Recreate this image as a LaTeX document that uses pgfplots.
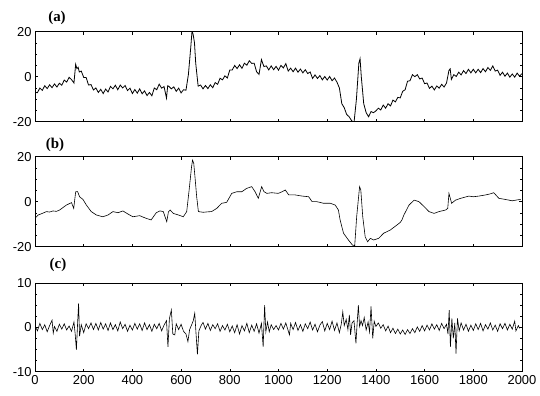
\documentclass[border=0pt]{standalone}
\usepackage{fontspec}
\setmainfont{Liberation Sans}
\newfontfamily\seriffont{Liberation Serif}
\usepackage{pgfplots}
\pgfplotsset{compat=1.18}
\pgfplotsset{
  panel/.style={
    scale only axis, width=487bp, height=90bp, anchor=south west,
    xmin=0, xmax=2000,
    xtick={0,200,...,2000},
    tick align=inside, tick pos=both,
    major tick length=3bp, minor tick length=2bp,
    axis line style={line width=0.8pt},
    every tick/.style={black, line width=0.5pt},
    ticklabel style={font=\fontsize{13}{13}\selectfont},
    /pgf/number format/assume math mode=true,
    /pgf/number format/1000 sep={},
    clip=true,
  },
  sig/.style={black, line width=0.6pt, mark=none},
}
\begin{document}
\begin{tikzpicture}
\path[use as bounding box] (0,0) rectangle (540bp,396bp);

% (a)
\begin{axis}[panel, at={(35bp,274.3bp)}, ymin=-20, ymax=20, ytick={-20,0,20}, minor ytick={-15,-10,-5,5,10,15}, xticklabels={}]
\addplot[sig, line width=0.8pt] coordinates {
(0,-7.0)(10,-7.1)(20,-5.0)(30,-6.1)(40,-4.0)(50,-5.3)(60,-3.6)(70,-4.9)(80,-3.2)(90,-4.6)
(100,-2.9)(110,-3.8)(120,-1.5)(130,-2.4)(140,-0.3)(150,-1.3)(160,-2.8)(167,5.5)(172,3.6)(177,4.2)
(182,2.1)(190,2.5)(200,-0.3)(210,-0.4)(220,-3.7)(230,-3.5)(240,-5.9)(250,-5.0)(260,-7.0)(270,-5.6)
(280,-7.5)(290,-5.5)(300,-6.8)(310,-4.3)(320,-5.4)(330,-3.8)(340,-5.8)(350,-3.7)(360,-5.0)(370,-3.9)
(380,-6.2)(390,-5.1)(400,-7.5)(410,-5.7)(420,-7.3)(430,-5.4)(440,-7.6)(450,-6.3)(460,-8.4)(470,-7.0)
(480,-8.5)(490,-5.0)(500,-5.8)(510,-3.3)(520,-5.1)(530,-4.4)(540,-9.5)(545,-4.0)(550,-4.3)(560,-5.4)
(570,-4.5)(580,-6.5)(590,-5.1)(600,-7.2)(610,-5.8)(620,-6.0)(630,1.0)(640,13.5)(645,20.5)(650,18.5)
(655,15.0)(660,6.0)(670,-4.2)(680,-3.7)(690,-5.4)(700,-3.9)(710,-5.3)(720,-3.6)(730,-4.9)(740,-2.6)
(750,-3.4)(760,-0.7)(770,-1.4)(780,0.4)(790,-0.6)(800,3.0)(810,3.0)(820,5.0)(830,3.6)(840,5.3)
(850,3.7)(860,6.0)(870,5.1)(880,7.1)(890,5.9)(900,6.0)(910,2.2)(920,1.0)(930,7.6)(940,4.5)
(950,4.8)(960,3.0)(970,4.8)(980,3.1)(990,4.6)(1000,2.9)(1010,5.0)(1020,3.9)(1030,5.8)(1040,2.5)
(1050,3.8)(1060,2.2)(1070,3.8)(1080,2.0)(1090,3.4)(1100,1.7)(1110,3.1)(1120,1.4)(1130,2.1)(1140,-0.8)
(1150,0.8)(1160,-0.8)(1170,0.5)(1180,-1.4)(1190,0.1)(1200,-1.5)(1210,0.1)(1220,-1.8)(1230,-0.6)(1240,-2.4)
(1250,-5.0)(1260,-12.0)(1270,-13.8)(1280,-16.8)(1290,-17.8)(1300,-19.5)(1310,-20.5)(1320,-10.0)(1325,-2.0)(1330,6.0)
(1335,8.0)(1340,0.0)(1345,-6.0)(1350,-12.0)(1360,-16.0)(1370,-17.8)(1380,-15.5)(1390,-16.0)(1400,-15.2)(1410,-14.0)
(1420,-14.8)(1430,-12.6)(1440,-14.0)(1450,-12.0)(1460,-13.0)(1470,-10.4)(1480,-11.2)(1490,-9.2)(1500,-9.4)(1510,-6.5)
(1520,-5.8)(1530,-2.0)(1540,-1.8)(1550,0.9)(1560,0.0)(1570,0.9)(1580,-1.0)(1590,-0.6)(1600,-3.1)(1610,-2.8)
(1620,-5.2)(1630,-4.2)(1640,-5.9)(1650,-4.1)(1660,-5.1)(1670,-3.4)(1680,-4.6)(1690,-2.8)(1700,2.8)(1705,3.5)
(1710,-1.2)(1720,0.9)(1730,0.1)(1740,2.0)(1750,0.8)(1760,2.7)(1770,1.4)(1780,3.3)(1790,1.7)(1800,3.3)
(1810,1.7)(1820,3.3)(1830,1.8)(1840,3.6)(1850,2.2)(1860,4.1)(1870,2.8)(1880,4.8)(1890,2.5)(1900,2.9)
(1910,0.6)(1920,2.0)(1930,0.2)(1940,1.6)(1950,-0.2)(1960,1.2)(1970,-0.2)(1980,1.6)(1990,0.2)(2000,1.4)
};
\end{axis}

% (b)
\begin{axis}[panel, at={(35bp,149.3bp)}, ymin=-20, ymax=20, ytick={-20,0,20}, minor ytick={-15,-10,-5,5,10,15}, xticklabels={}]
\addplot[sig] coordinates {
(0,-7.4)(13,-5.9)(30,-5.2)(47,-4.4)(60,-4.6)(74,-4.1)(88,-4.3)(101,-3.7)(115,-2.6)(129,-1.5)
(150,-0.4)(159,-3.0)(167,4.4)(175,4.5)(183,2.2)(197,1.0)(211,-1.5)(231,-4.4)(252,-5.9)(265,-6.3)
(279,-6.7)(300,-5.9)(320,-4.4)(341,-4.9)(361,-4.1)(382,-5.5)(402,-6.7)(430,-6.2)(445,-6.9)(457,-7.4)
(477,-8.1)(498,-4.9)(513,-4.1)(527,-4.4)(541,-8.9)(548,-4.5)(555,-3.7)(568,-5.2)(589,-5.9)(609,-6.7)
(623,-4.4)(633,5.2)(643,15.6)(647,18.5)(652,17.0)(657,11.0)(664,2.2)(671,-4.4)(691,-4.7)(710,-4.5)
(725,-4.4)(746,-3.0)(767,-0.7)(787,-0.3)(808,3.7)(828,4.4)(849,4.4)(869,5.9)(890,6.7)(904,4.4)
(917,1.5)(931,6.7)(940,4.5)(952,3.7)(972,4.0)(999,3.7)(1014,4.4)(1028,5.2)(1042,3.0)(1069,3.0)
(1097,2.5)(1124,2.2)(1138,0.0)(1158,0.0)(1185,-0.7)(1213,-0.7)(1233,-1.5)(1246,-3.7)(1253,-8.1)(1267,-14.0)
(1287,-17.0)(1304,-19.3)(1313,-19.5)(1321,-6.7)(1333,6.7)(1338,5.2)(1346,-6.7)(1356,-15.6)(1366,-17.8)(1377,-16.3)
(1391,-17.0)(1411,-16.3)(1432,-14.0)(1459,-12.6)(1486,-10.4)(1500,-9.2)(1507,-8.1)(1515,-5.9)(1536,-1.5)(1557,0.7)
(1577,0.0)(1598,-2.2)(1618,-4.4)(1639,-5.2)(1659,-4.4)(1686,-3.7)(1695,-3.0)(1700,3.7)(1711,-0.7)(1727,0.7)
(1748,1.5)(1765,2.0)(1782,2.5)(1800,2.2)(1823,2.5)(1850,3.0)(1867,3.4)(1884,4.0)(1905,1.5)(1932,1.0)
(1960,0.4)(1980,0.8)(1994,1.0)
};
\end{axis}

% (c)
\begin{axis}[panel, at={(35bp,24.3bp)}, height=88.7bp, ymin=-10, ymax=10, ytick={-10,0,10}, minor ytick={-7.5,-5,-2.5,2.5,5,7.5}]
\addplot[sig] coordinates {
(0,0.3)(10,-0.8)(20,0.9)(30,-0.5)(40,0.6)(50,-1.0)(60,0.4)(70,1.6)(75,-1.3)(80,0.2)
(90,-0.9)(100,0.7)(110,-0.4)(120,0.8)(130,-0.6)(140,0.3)(150,-0.9)(160,1.2)(165,-1.5)(170,-5.1)
(175,1.0)(179,5.4)(183,-2.0)(190,0.6)(200,-1.2)(210,0.8)(220,-0.3)(230,1.0)(240,-0.5)(250,0.9)
(260,-0.6)(270,1.1)(280,-0.4)(290,0.8)(300,-0.7)(310,1.0)(320,-0.5)(330,0.6)(340,-0.8)(350,1.2)
(360,-0.3)(370,0.7)(380,-0.9)(390,0.5)(400,-0.6)(410,0.9)(420,-0.4)(430,0.8)(440,-0.7)(450,1.0)
(460,-0.5)(470,0.6)(480,-0.9)(490,0.7)(500,-0.3)(510,0.9)(520,-0.8)(530,0.5)(540,1.5)(546,-4.4)
(552,2.0)(560,3.9)(566,-1.5)(574,-1.7)(580,0.8)(590,-0.5)(600,0.7)(610,-0.9)(620,-1.5)(628,-3.2)
(635,-0.5)(645,0.8)(650,1.5)(656,3.2)(662,-2.0)(667,-6.1)(673,-0.8)(683,0.5)(690,1.1)(700,-0.4)
(710,0.9)(720,-0.7)(730,0.6)(740,-0.3)(750,0.8)(760,-0.9)(770,0.4)(780,-0.6)(790,0.7)(800,-1.0)
(810,0.3)(820,-1.2)(830,0.6)(840,-1.5)(850,0.4)(860,-0.8)(870,0.9)(880,-1.2)(890,0.5)(900,-0.9)
(910,0.8)(920,-1.3)(930,0.9)(937,-4.4)(943,5.0)(948,-1.0)(955,1.2)(962,-1.0)(970,0.6)(980,-0.5)
(990,0.4)(1000,-0.6)(1010,0.9)(1020,-0.4)(1030,1.0)(1040,-0.8)(1045,-1.7)(1050,0.9)(1060,-0.5)(1070,1.1)
(1080,-0.7)(1090,0.6)(1100,-0.9)(1110,0.8)(1120,-0.3)(1130,1.2)(1140,-0.6)(1150,0.7)(1160,-1.0)(1170,0.5)
(1180,1.3)(1190,-0.8)(1200,0.9)(1210,-0.5)(1220,1.4)(1230,-0.7)(1240,1.0)(1250,-1.2)(1258,0.8)(1264,3.5)
(1270,0.4)(1278,1.8)(1285,-0.5)(1291,2.8)(1296,-1.7)(1302,1.0)(1310,1.5)(1318,-3.6)(1323,1.0)(1328,5.0)
(1333,0.2)(1339,1.5)(1345,0.4)(1352,2.2)(1360,-0.6)(1368,1.2)(1374,-1.0)(1380,4.7)(1387,-2.5)(1393,1.4)
(1400,0.2)(1410,1.0)(1420,-0.2)(1430,0.6)(1440,-0.8)(1450,0.3)(1460,-1.2)(1470,-0.2)(1480,-1.4)(1490,-0.4)
(1500,-1.5)(1510,-0.6)(1520,-1.6)(1530,-0.5)(1540,-1.4)(1550,-0.3)(1560,-1.2)(1570,0.1)(1580,-0.9)(1590,0.4)
(1600,-0.8)(1610,0.5)(1620,-0.6)(1630,0.8)(1640,-0.4)(1650,0.6)(1660,-0.7)(1670,0.9)(1680,-0.3)(1690,0.7)
(1696,-1.5)(1701,3.9)(1706,-4.4)(1712,2.0)(1718,-2.5)(1724,1.0)(1729,-5.9)(1735,2.0)(1742,-0.8)(1750,1.0)
(1760,-0.6)(1770,0.7)(1780,-0.9)(1790,0.5)(1800,-0.7)(1810,0.8)(1820,-0.5)(1830,0.9)(1840,-0.8)(1850,0.6)
(1860,-0.4)(1870,1.0)(1880,-0.6)(1890,0.5)(1900,-0.9)(1910,0.8)(1920,-0.3)(1930,0.9)(1940,-0.6)(1950,0.7)
(1960,-0.4)(1970,1.4)(1975,-0.8)(1985,0.4)(1990,-0.2)
};
\end{axis}

\node[font=\seriffont\bfseries\fontsize{15}{15}\selectfont, inner sep=0pt] at (57bp,378bp) {(a)};
\node[font=\seriffont\bfseries\fontsize{15}{15}\selectfont, inner sep=0pt] at (55bp,251bp) {(b)};
\node[font=\seriffont\bfseries\fontsize{15}{15}\selectfont, inner sep=0pt] at (58bp,131bp) {(c)};
\end{tikzpicture}
\end{document}
